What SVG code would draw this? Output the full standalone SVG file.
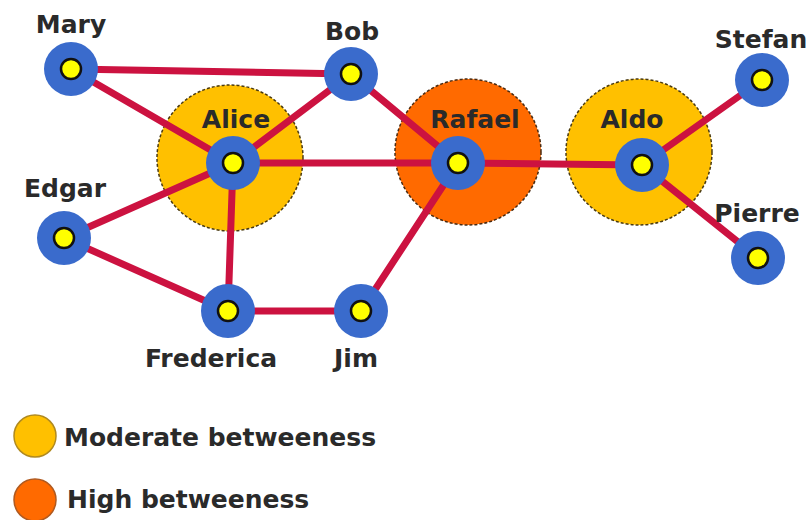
<svg xmlns="http://www.w3.org/2000/svg" width="811" height="520" viewBox="0 0 811 520">
<style>
.bg{fill:#fff}
.mod{fill:#ffc000;stroke:#4a3a10;stroke-width:1.5;stroke-dasharray:3 2}
.high{fill:#ff6a00;stroke:#4a2a10;stroke-width:1.5;stroke-dasharray:3 2}
.edge{stroke:#cc1240;stroke-width:7;stroke-linecap:round;fill:none}
.outer{fill:#3a6bcc}
.inner{fill:#ffff00;stroke:#111;stroke-width:2.5}
text{font-family:"DejaVu Sans","Liberation Sans",sans-serif;font-weight:bold;font-size:25px;fill:#2a2a2a}
.c{text-anchor:middle}
</style>
<rect class="bg" width="811" height="520"/>
<g id="halos">
<circle class="mod" cx="230" cy="158" r="73"/>
<circle class="high" cx="468" cy="152" r="73"/>
<circle class="mod" cx="639" cy="152" r="73"/>
</g>
<g id="halo-labels">
<text class="c" x="236" y="128">Alice</text>
<text class="c" x="475" y="128">Rafael</text>
<text class="c" x="632" y="128">Aldo</text>
</g>
<g id="connectors">
<line class="edge" x1="71" y1="69" x2="351" y2="74"/>
<line class="edge" x1="71" y1="69" x2="233" y2="163"/>
<line class="edge" x1="351" y1="74" x2="233" y2="163"/>
<line class="edge" x1="351" y1="74" x2="458" y2="163"/>
<line class="edge" x1="233" y1="163" x2="458" y2="163"/>
<line class="edge" x1="233" y1="163" x2="64" y2="238"/>
<line class="edge" x1="233" y1="163" x2="228" y2="311"/>
<line class="edge" x1="64" y1="238" x2="228" y2="311"/>
<line class="edge" x1="228" y1="311" x2="361" y2="311"/>
<line class="edge" x1="361" y1="311" x2="458" y2="163"/>
<line class="edge" x1="458" y1="163" x2="642" y2="165"/>
<line class="edge" x1="642" y1="165" x2="762" y2="80"/>
<line class="edge" x1="642" y1="165" x2="758" y2="258"/>
</g>
<g id="mary"><circle class="outer" cx="71" cy="69" r="27"/><circle class="inner" cx="71" cy="69" r="10"/><text class="c" x="71" y="33">Mary</text></g>
<g id="bob"><circle class="outer" cx="351" cy="74" r="27"/><circle class="inner" cx="351" cy="74" r="10"/><text class="c" x="352" y="40">Bob</text></g>
<g id="alice"><circle class="outer" cx="233" cy="163" r="27"/><circle class="inner" cx="233" cy="163" r="10"/></g>
<g id="edgar"><circle class="outer" cx="64" cy="238" r="27"/><circle class="inner" cx="64" cy="238" r="10"/><text class="c" x="65" y="197">Edgar</text></g>
<g id="frederica"><circle class="outer" cx="228" cy="311" r="27"/><circle class="inner" cx="228" cy="311" r="10"/><text class="c" x="211" y="367">Frederica</text></g>
<g id="jim"><circle class="outer" cx="361" cy="311" r="27"/><circle class="inner" cx="361" cy="311" r="10"/><text class="c" x="356" y="367">Jim</text></g>
<g id="rafael"><circle class="outer" cx="458" cy="163" r="27"/><circle class="inner" cx="458" cy="163" r="10"/></g>
<g id="aldo"><circle class="outer" cx="642" cy="165" r="27"/><circle class="inner" cx="642" cy="165" r="10"/></g>
<g id="stefan"><circle class="outer" cx="762" cy="80" r="27"/><circle class="inner" cx="762" cy="80" r="10"/><text class="c" x="761" y="48">Stefan</text></g>
<g id="pierre"><circle class="outer" cx="758" cy="258" r="27"/><circle class="inner" cx="758" cy="258" r="10"/><text class="c" x="757" y="222">Pierre</text></g>
<g id="legend">
<circle cx="35" cy="436" r="21" fill="#ffc000" stroke="#b08a20" stroke-width="1.5"/>
<text x="64" y="446">Moderate betweeness</text>
<circle cx="35" cy="500" r="21" fill="#ff6a00" stroke="#b05a20" stroke-width="1.5"/>
<text x="67" y="508">High betweeness</text>
</g>
</svg>
